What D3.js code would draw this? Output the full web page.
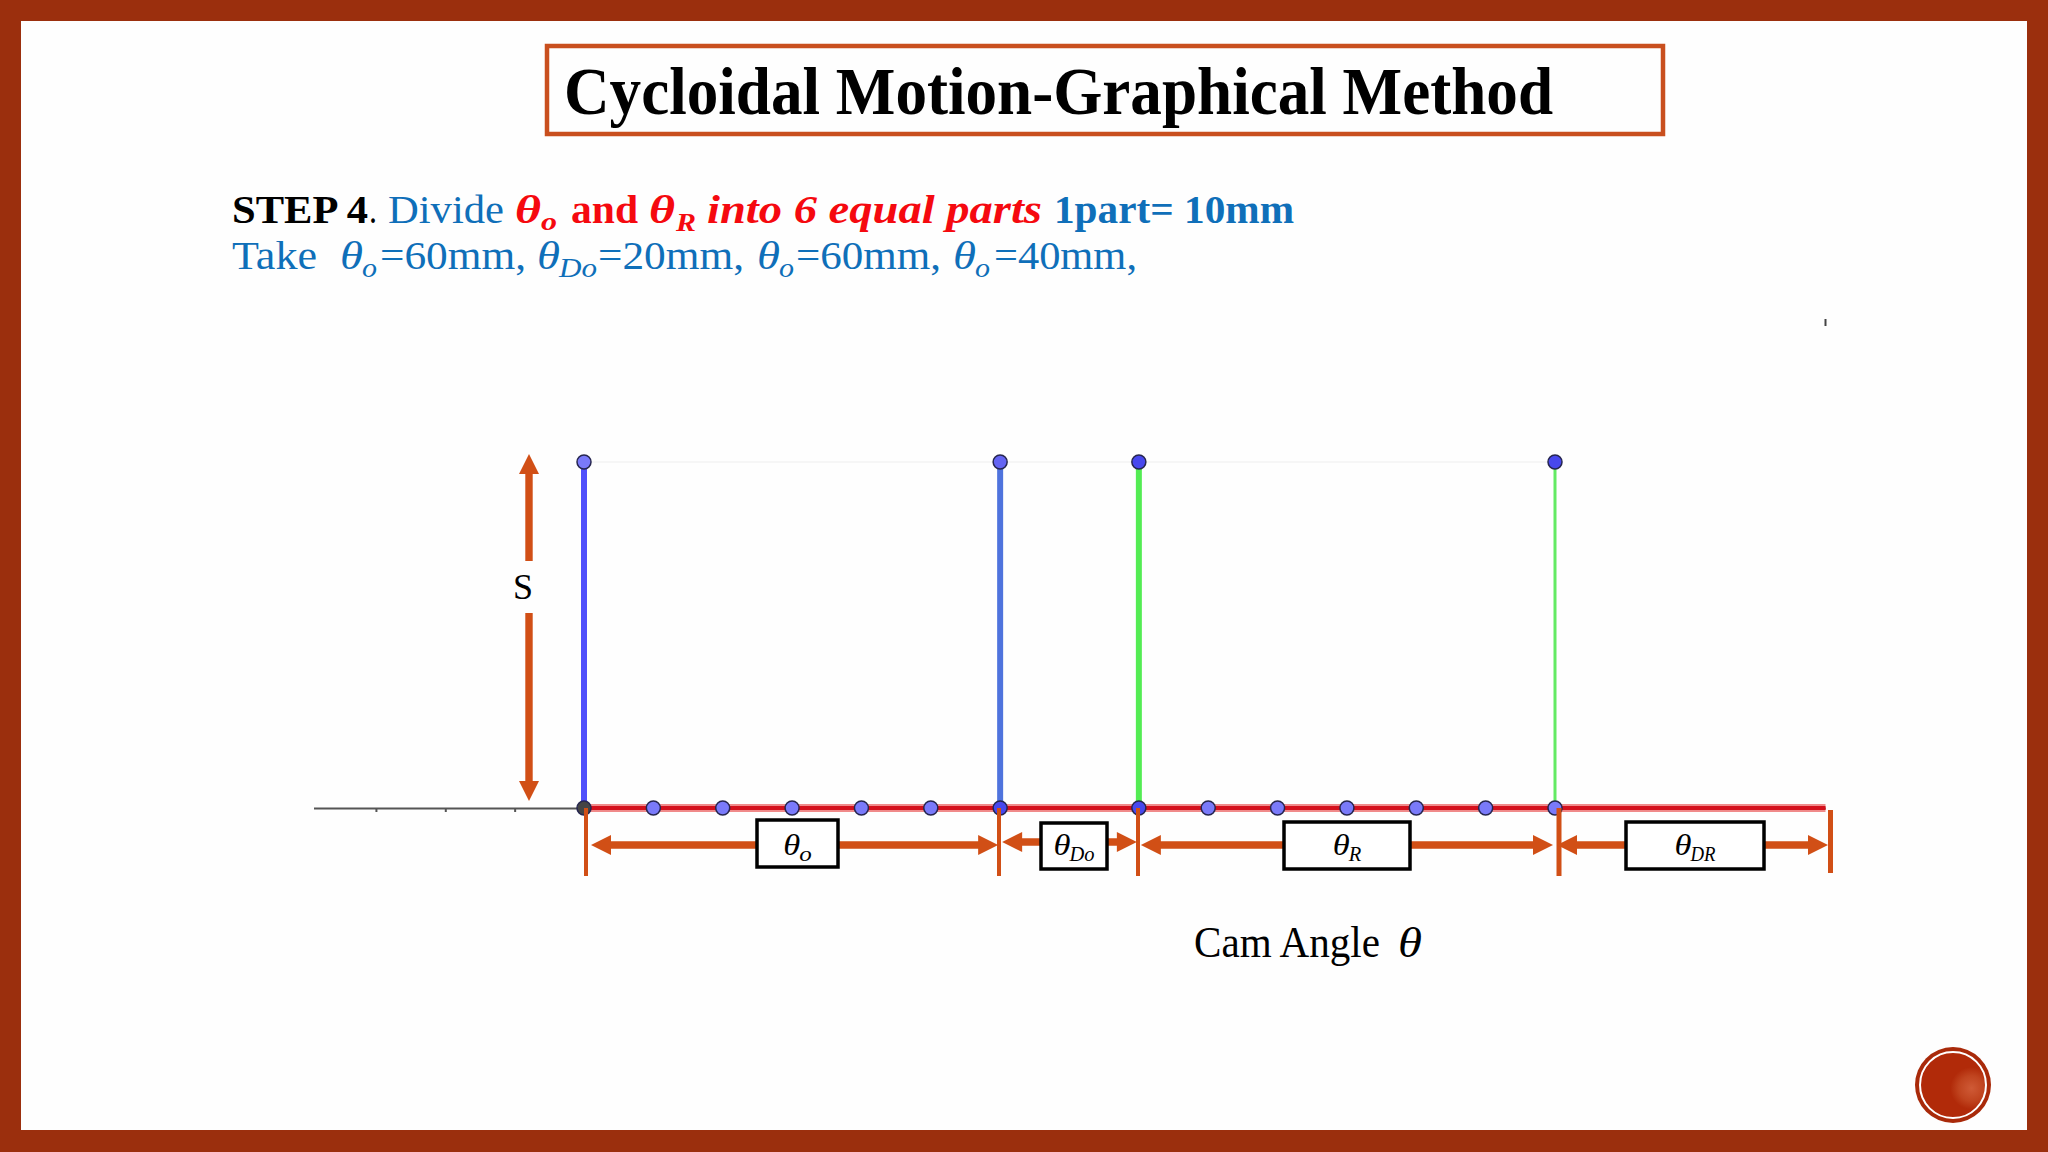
<!DOCTYPE html>
<html>
<head>
<meta charset="utf-8">
<style>
  html, body { margin: 0; padding: 0; background: #fff; }
  svg { display: block; }
  text { font-family: "Liberation Serif", serif; }
</style>
<script src="https://cdn.jsdelivr.net/npm/d3@7"></script>
</head>
<body>
<div id="chart"></div>
<script>
// values, x axis in mm (1 part = 10 mm)
const axisStart = -39
const axisEnd = 179
const tickValues = [-30, -20, -10, 70, 150, 160, 170]
const dotTheta = [0, 10, 20, 30, 40, 50, 60, 80, 90, 100, 110, 120, 130, 140]
const dotKind = ['o', 'l', 'l', 'l', 'l', 'l', 'd', 'd', 'l', 'l', 'l', 'l', 'l', 'l']
const guideTheta = [0, 60, 80, 140]
const guideColor = ['#4f4ffb', '#4f73dd', '#53ec53', '#63ea63']
const guideWidth = [6, 6, 6, 3]
const topKind = ['l', 'm', 'd', 'd']
const spanStart = [0, 60, 80, 140]
const spanEnd = [60, 80, 140, 179]
const spanLabel = ['o', 'Do', 'R', 'DR']

const width = 2048
const height = 1152
const frameColor = '#9b2f0d'
const dimColor = '#d14f16'
const blue = '#0f6fb9'
const red = '#f5090f'
const dotFill = { o: '#454545', l: '#7a7afa', m: '#6464f2', d: '#4848ee' }

const x = d3.scaleLinear().domain([0, axisEnd]).range([584, 1825.5])
const y = d3.scaleLinear().domain([0, 1]).range([808, 462])

const svg = d3.select('#chart').append('svg')
  .attr('width', width)
  .attr('height', height)

// slide frame
svg.append('rect').attr('width', width).attr('height', height).attr('fill', frameColor)
svg.append('rect').attr('x', 21).attr('y', 21).attr('width', 2006).attr('height', 1109).attr('fill', '#fefefe')

// title
svg.append('rect')
  .attr('x', 547).attr('y', 46).attr('width', 1116).attr('height', 88)
  .attr('fill', 'none').attr('stroke', '#c94f1e').attr('stroke-width', 4.5)

function label(text, px, py, size, len, opts) {
  opts = opts || {}
  let t = svg.append('text')
    .attr('x', px).attr('y', py)
    .attr('font-size', size)
    .attr('fill', opts.fill || '#000')
    .attr('font-weight', opts.bold ? 'bold' : 'normal')
    .attr('font-style', opts.italic ? 'italic' : 'normal')
    .text(text)
  if (len) t.attr('textLength', len).attr('lengthAdjust', 'spacingAndGlyphs')
  return t
}

label('Cycloidal Motion-Graphical Method', 564, 114, 68, 989, { bold: true })

// step text, first line
label('STEP 4', 232, 223, 40, 136, { bold: true })
label('.', 369, 223, 40, 8)
label('Divide', 388, 223, 40, 116, { fill: blue })
label('θ', 515, 223, 40, 26, { fill: red, bold: true, italic: true })
label('o', 541, 230, 26, 16, { fill: red, bold: true, italic: true })
label('and', 571, 223, 40, 67, { fill: red, bold: true })
label('θ', 649, 223, 40, 26, { fill: red, bold: true, italic: true })
label('R', 676, 231, 26, 20, { fill: red, bold: true, italic: true })
label('into 6 equal parts', 707, 223, 40, 335, { fill: red, bold: true, italic: true })
label('1part= 10mm', 1054, 223, 40, 240, { fill: blue, bold: true })

// step text, second line
label('Take', 232, 269, 40, 85, { fill: blue })
const takeTheta = [340, 537, 757, 953]
const takeSub = ['o', 'Do', 'o', 'o']
const takeText = ['=60mm,', '=20mm,', '=60mm,', '=40mm,']
const takeTextX = [380, 598, 796, 994]
const takeTextW = [146, 146, 145, 143]
takeTheta.forEach((px, i) => {
  label('θ', px, 269, 40, 23, { fill: blue, italic: true })
  label(takeSub[i], px + 22, 277, 27, takeSub[i].length === 1 ? 15 : 38, { fill: blue, italic: true })
  label(takeText[i], takeTextX[i], 269, 40, takeTextW[i], { fill: blue })
})

// stray mark at the top right
svg.append('line')
  .attr('x1', x(axisEnd)).attr('x2', x(axisEnd))
  .attr('y1', 319).attr('y2', 326)
  .attr('stroke', '#444').attr('stroke-width', 2)

// faint top line
svg.append('line')
  .attr('x1', x(0)).attr('x2', x(140))
  .attr('y1', y(1)).attr('y2', y(1))
  .attr('stroke', '#f6f6f6').attr('stroke-width', 2)

// axis
const axis = d3.axisBottom(d3.scaleLinear().domain([axisStart, axisEnd]).range([x(axisStart), x(axisEnd)]))
  .tickValues(tickValues)
  .tickSize(4)
  .tickSizeOuter(0)
  .tickFormat('')
const axisG = svg.append('g').attr('transform', `translate(0,${y(0)})`).call(axis)
axisG.selectAll('path, line').attr('stroke', '#555').attr('stroke-width', 2)

// vertical guides
svg.selectAll('.guide').data(guideTheta).join('line')
  .attr('class', 'guide')
  .attr('x1', d => x(d)).attr('x2', d => x(d))
  .attr('y1', y(1)).attr('y2', y(0))
  .attr('stroke', (d, i) => guideColor[i])
  .attr('stroke-width', (d, i) => guideWidth[i])

// red base line
svg.append('line').attr('x1', x(0)).attr('x2', x(axisEnd)).attr('y1', y(0)).attr('y2', y(0))
  .attr('stroke', '#f08a8a').attr('stroke-width', 8)
svg.append('line').attr('x1', x(0)).attr('x2', x(axisEnd)).attr('y1', y(0)).attr('y2', y(0))
  .attr('stroke', '#d4101c').attr('stroke-width', 4)

// points on the base line and on top
function drawDots(data, kinds, py) {
  svg.selectAll(null).data(data).join('circle')
    .attr('cx', d => x(d)).attr('cy', py)
    .attr('r', 7)
    .attr('fill', (d, i) => dotFill[kinds[i]])
    .attr('stroke', '#26264f').attr('stroke-width', 1.5)
}
drawDots(dotTheta, dotKind, y(0))
drawDots(guideTheta, topKind, y(1))

// arrow helper, straight shaft with a triangular head
function arrowPath(x0, y0, x1, y1) {
  const len = Math.hypot(x1 - x0, y1 - y0)
  const ux = (x1 - x0) / len, uy = (y1 - y0) / len
  const bx = x1 - ux * 20, by = y1 - uy * 20
  const px = -uy, py = ux
  return [
    [x0 + px * 3.7, y0 + py * 3.7], [bx + px * 3.7, by + py * 3.7], [bx + px * 10, by + py * 10],
    [x1, y1],
    [bx - px * 10, by - py * 10], [bx - px * 3.7, by - py * 3.7], [x0 - px * 3.7, y0 - py * 3.7]
  ]
}
function drawArrow(x0, y0, x1, y1) {
  svg.append('path')
    .attr('d', d3.line()(arrowPath(x0, y0, x1, y1)) + 'Z')
    .attr('fill', dimColor)
}

// S arrow
drawArrow(529, 561, 529, 454)
drawArrow(529, 613, 529, 801)
label('S', 513, 599, 36)

// bounds of the four spans
const boundX = [586, 999, 1138, 1559, 1830.5]
const boundTop = [808, 808, 808, 808, 810]
const boundBottom = [876, 876, 876, 876, 873]
const boundWidth = [4, 4, 4, 5, 5]
boundX.forEach((px, i) => {
  svg.append('line')
    .attr('x1', px).attr('x2', px)
    .attr('y1', boundTop[i]).attr('y2', boundBottom[i])
    .attr('stroke', dimColor).attr('stroke-width', boundWidth[i])
})

// span arrows and their boxes
const boxLeft = [757, 1041, 1284, 1626]
const boxRight = [838, 1107, 1410, 1764]
const boxTop = [820, 823, 822, 822]
const boxBottom = [867, 869, 869, 869]
const arrowY = [845, 842, 845, 845]
const spanPad = [7, 2, 2, 2]
spanLabel.forEach((name, i) => {
  const left = x(spanStart[i]) + spanPad[i]
  const right = i === 3 ? 1828 : x(spanEnd[i]) - 2
  drawArrow(boxLeft[i], arrowY[i], left, arrowY[i])
  drawArrow(boxRight[i], arrowY[i], right, arrowY[i])
  svg.append('rect')
    .attr('x', boxLeft[i]).attr('y', boxTop[i])
    .attr('width', boxRight[i] - boxLeft[i]).attr('height', boxBottom[i] - boxTop[i])
    .attr('fill', '#fff').attr('stroke', '#000').attr('stroke-width', 3.5)
  const cx = (boxLeft[i] + boxRight[i]) / 2
  const lw = name.length * 12.5
  const tx = cx - (16 + lw) / 2
  label('θ', tx, 855, 30, 17, { italic: true })
  label(name, tx + 16, 861, 20, lw, { italic: true })
})

// x axis title
label('Cam Angle', 1194, 957, 44, 186)
label('θ', 1398, 957, 42, 24, { italic: true }).attr('font-weight', 'normal')

// footer badge
const defs = svg.append('defs')
const glow = defs.append('radialGradient').attr('id', 'badgeGlow')
  .attr('cx', '0.78').attr('cy', '0.55').attr('r', '0.32')
glow.append('stop').attr('offset', '0').attr('stop-color', '#cf5a36')
glow.append('stop').attr('offset', '0.6').attr('stop-color', '#c0441f')
glow.append('stop').attr('offset', '1').attr('stop-color', '#b12a09')
svg.append('circle').attr('cx', 1953).attr('cy', 1085).attr('r', 38).attr('fill', '#a92a0a')
svg.append('circle').attr('cx', 1953).attr('cy', 1085).attr('r', 33).attr('fill', 'url(#badgeGlow)')
  .attr('stroke', '#fff').attr('stroke-width', 2)
</script>
</body>
</html>
